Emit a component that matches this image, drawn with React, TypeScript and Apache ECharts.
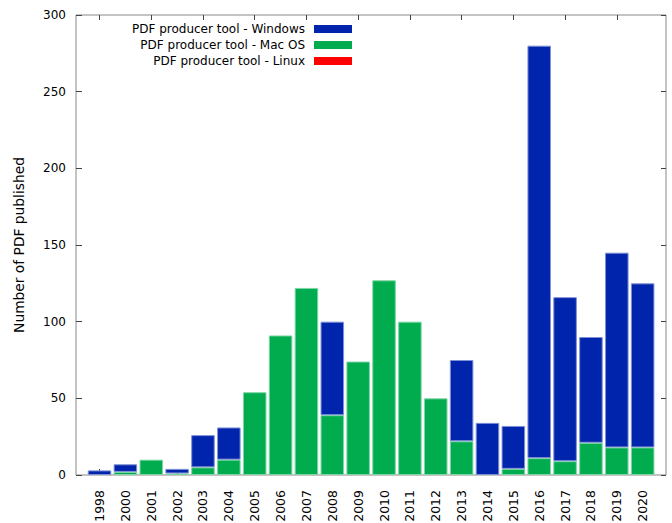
import React, { useEffect, useRef } from "react";
import * as echarts from "echarts";

const years = ["1998", "2000", "2001", "2002", "2003", "2004", "2005", "2006", "2007", "2008", "2009", "2010", "2011", "2012", "2013", "2014", "2015", "2016", "2017", "2018", "2019", "2020"];
const macOS = [0, 2, 10, 1, 5, 10, 54, 91, 122, 39, 74, 127, 100, 50, 22, 0, 4, 11, 9, 21, 18, 18];
const windows = [3, 5, 0, 3, 21, 21, 0, 0, 0, 61, 0, 0, 0, 0, 53, 34, 28, 269, 107, 69, 127, 107];
const linux = [0, 0, 0, 0, 0, 0, 0, 0, 0, 0, 0, 0, 0, 0, 0, 0, 0, 0, 0, 0, 0, 0];
const seriesNames = ["PDF producer tool - Windows", "PDF producer tool - Mac OS", "PDF producer tool - Linux"];
const yTicks = { min: 0, max: 300, interval: 50 };

const FONT = "DejaVu Sans";
const hideZero = (arr: number[]) => arr.map((v) => (v === 0 ? "-" : v));

export default function App() {
  const ref = useRef<HTMLDivElement>(null);
  useEffect(() => {
    if (!ref.current) return;
    const chart = echarts.init(ref.current, null, { renderer: "svg" });
    const tickStyle = { color: "#444", width: 1 };
    chart.setOption({
      animation: false,
      backgroundColor: "#fff",
      textStyle: { fontFamily: FONT },
      legend: {
        orient: "vertical",
        align: "right",
        right: 315,
        top: 16,
        itemWidth: 38,
        itemHeight: 8,
        itemGap: 0,
        icon: "rect",
        data: seriesNames,
        itemStyle: { borderWidth: 0 },
        textStyle: { fontFamily: FONT, fontSize: 12, color: "#000", lineHeight: 16, padding: [0, 4, 0, 0] },
        selectedMode: false,
      },
      grid: [
        { left: 76, right: 6, top: 15, bottom: 48, show: true, borderColor: "#888", borderWidth: 1, backgroundColor: "transparent", outerBoundsMode: "none", containLabel: false },
        { left: 86.6, right: 16.4, top: 15, bottom: 48, outerBoundsMode: "none", containLabel: false },
      ],
      xAxis: [
        { type: "value", gridIndex: 0, show: false, min: 0, max: 1 },
        {
          type: "category",
          gridIndex: 1,
          data: years,
          axisLine: { show: false },
          axisTick: { show: true, inside: true, alignWithLabel: true, length: 6, lineStyle: tickStyle },
          axisLabel: { rotate: 90, margin: 15, fontSize: 12.5, color: "#000", fontFamily: FONT, interval: 0 },
        },
        {
          type: "category",
          gridIndex: 1,
          position: "top",
          data: years,
          axisLine: { show: false },
          axisTick: { show: true, inside: true, alignWithLabel: true, length: 5, lineStyle: tickStyle },
          axisLabel: { show: false },
        },
      ],
      yAxis: [
        {
          type: "value",
          gridIndex: 0,
          position: "left",
          ...yTicks,
          name: "Number of PDF published",
          nameLocation: "middle",
          nameGap: 50,
          nameTextStyle: { fontSize: 13.8, color: "#000", fontFamily: FONT },
          axisLine: { show: false },
          axisTick: { show: true, inside: true, length: 6, lineStyle: tickStyle },
          axisLabel: { margin: 10, fontSize: 12, color: "#000", fontFamily: FONT },
          splitLine: { show: false },
        },
        {
          type: "value",
          gridIndex: 0,
          position: "right",
          ...yTicks,
          axisLine: { show: false },
          axisTick: { show: true, inside: true, length: 5, lineStyle: tickStyle },
          axisLabel: { show: false },
          splitLine: { show: false },
        },
        { type: "value", gridIndex: 1, ...yTicks, show: false },
      ],
      series: [
        {
          name: seriesNames[1],
          type: "bar",
          stack: "total",
          xAxisIndex: 1,
          yAxisIndex: 2,
          data: hideZero(macOS),
          barCategoryGap: "9%",
          itemStyle: { color: "#00ac4e", borderColor: "#7fd5a6", borderWidth: 1 },
        },
        {
          name: seriesNames[0],
          type: "bar",
          stack: "total",
          xAxisIndex: 1,
          yAxisIndex: 2,
          data: hideZero(windows),
          barCategoryGap: "9%",
          itemStyle: { color: "#0024ab", borderColor: "#7f91d5", borderWidth: 1 },
        },
        {
          name: seriesNames[2],
          type: "bar",
          stack: "total",
          xAxisIndex: 1,
          yAxisIndex: 2,
          data: hideZero(linux),
          barCategoryGap: "9%",
          itemStyle: { color: "#ff0000" },
        },
      ],
    });
    return () => chart.dispose();
  }, []);
  return <div ref={ref} style={{ position: "fixed", left: 0, top: 0, width: 672, height: 523 }} />;
}
